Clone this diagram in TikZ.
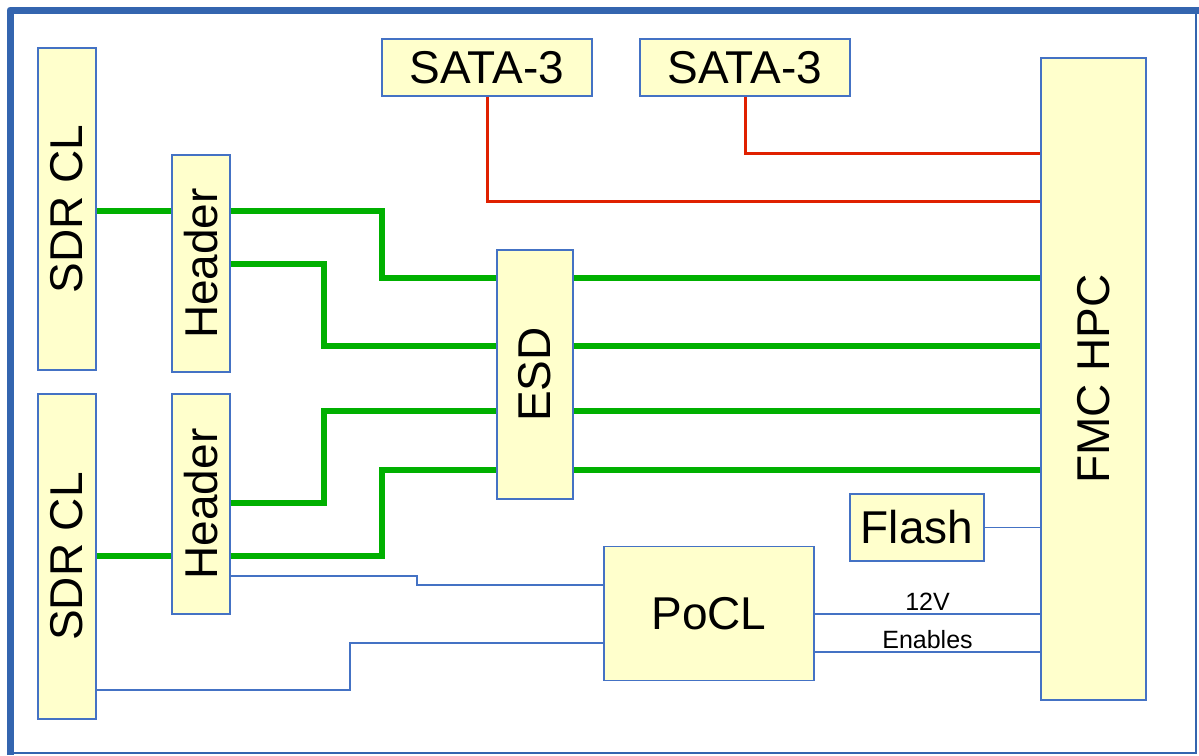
\documentclass[tikz,border=0pt]{standalone}
\usepackage{fontspec}
\setmainfont{Liberation Sans}
\definecolor{boxfill}{RGB}{255,255,204}
\definecolor{boxline}{RGB}{68,114,196}
\definecolor{framecol}{RGB}{52,101,175}
\definecolor{diffgreen}{RGB}{0,176,0}
\definecolor{satared}{RGB}{224,32,0}
\newcommand{\bigtxt}{\fontsize{46}{50}\selectfont}
\newcommand{\smalltxt}{\fontsize{25}{28}\selectfont}
\begin{document}
\begin{tikzpicture}[x=1pt,y=-1pt,
  blk/.style={draw=boxline, fill=boxfill, rectangle, line width=1.2pt, inner sep=0pt, font=\bigtxt},
  diffpair/.style={draw=diffgreen, line width=6pt},
  sataline/.style={draw=satared, line width=3pt},
  ctrlline/.style={draw=boxline, line width=1.2pt}]
\useasboundingbox (0,0) rectangle (1199,755);

% frame
\draw[framecol, line width=1.2pt] (10,753) -- (1196,753) -- (1196,10);
\draw[framecol, line width=7pt, line join=round] (10,755) -- (10,10) -- (1199,10);

\node[blk, minimum width=58, minimum height=322] (sdra) at (67,209) {\rotatebox{90}{SDR CL}};
\node[blk, minimum width=58, minimum height=325] (sdrb) at (67,556.5) {\rotatebox{90}{SDR CL}};
\node[blk, minimum width=58, minimum height=217] (hdra) at (201,263.5) {\rotatebox{90}{Header}};
\node[blk, minimum width=58, minimum height=220] (hdrb) at (201,504) {\rotatebox{90}{Header}};
\node[blk, minimum width=210, minimum height=57] (sataa) at (487,67.5) {SATA-3};
\node[blk, minimum width=210, minimum height=57] (satab) at (745,67.5) {SATA-3};
\node[blk, minimum width=76, minimum height=249] (esd) at (535,374.5) {\rotatebox{90}{ESD}};
\node[blk, minimum width=105, minimum height=642] (fmc) at (1093.5,379) {\rotatebox{90}{FMC HPC}};
\node[blk, minimum width=134, minimum height=67] (flash) at (917,527.5) {Flash};
\node[blk, minimum width=210, minimum height=134] (pocl) at (709,613.5) {PoCL};

% green pairs
\draw[diffpair] (sdra.east |- 0,211) -- (hdra.west |- 0,211);
\draw[diffpair] (hdra.east |- 0,211) -- (382,211) -- (382,278) -- (esd.west |- 0,278);
\draw[diffpair] (hdra.east |- 0,264) -- (324,264) -- (324,346) -- (esd.west |- 0,346);
\draw[diffpair] (hdrb.east |- 0,503) -- (324,503) -- (324,411) -- (esd.west |- 0,411);
\draw[diffpair] (hdrb.east |- 0,556) -- (382,556) -- (382,470) -- (esd.west |- 0,470);
\draw[diffpair] (sdrb.east |- 0,556) -- (hdrb.west |- 0,556);
\draw[diffpair] (esd.east |- 0,278) -- (fmc.west |- 0,278);
\draw[diffpair] (esd.east |- 0,346) -- (fmc.west |- 0,346);
\draw[diffpair] (esd.east |- 0,411) -- (fmc.west |- 0,411);
\draw[diffpair] (esd.east |- 0,470) -- (fmc.west |- 0,470);

% red lines
\draw[sataline] (sataa.south) -- (sataa.south |- 0,201) -- (fmc.west |- 0,201);
\draw[sataline] (satab.south) -- (satab.south |- 0,153) -- (fmc.west |- 0,153);

% thin lines
\draw[ctrlline] (hdrb.east |- 0,576) -- (417,576) -- (417,585) -- (pocl.west |- 0,585);
\draw[ctrlline] (sdrb.east |- 0,690) -- (350,690) -- (350,643) -- (pocl.west |- 0,643);
\draw[ctrlline] (flash.east) -- (fmc.west |- flash.east);
\draw[ctrlline] (pocl.east |- 0,614) -- node[above, inner sep=3pt, font=\smalltxt] {12V} (fmc.west |- 0,614);
\draw[ctrlline] (pocl.east |- 0,652) -- node[above, inner sep=3pt, font=\smalltxt] {Enables} (fmc.west |- 0,652);
\end{tikzpicture}
\end{document}
